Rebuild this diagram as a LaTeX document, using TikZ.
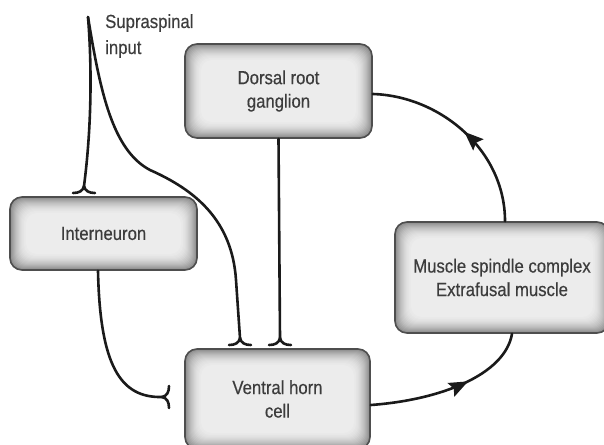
\documentclass[tikz,border=0pt]{standalone}
\usepackage{fontspec}
\setmainfont{Liberation Sans}[FakeStretch=0.88,FakeBold=0.4]
\usetikzlibrary{arrows.meta,decorations.markings}

\definecolor{ink}{HTML}{1A1A1A}
\definecolor{labelgray}{HTML}{3C3C3C}
\definecolor{boxedge}{HTML}{4E4E4E}

\tikzset{
  cellbox/.style={
    rectangle, rounded corners=12pt, draw=boxedge, line width=1.6pt,
    fill=gray!95, inner sep=0pt, align=center, text=labelgray,
    font=\fontsize{19}{23.5}\selectfont,
    path picture={
      \foreach \d in {0,...,18}{
        \pgfmathtruncatemacro\tone{15+78*(1-\d/18)^2}
        \fill[gray!\tone, rounded corners=11pt]
          ([xshift=\d pt,yshift=\d pt]path picture bounding box.south west)
          rectangle
          ([xshift=-\d pt,yshift=-\d pt]path picture bounding box.north east);
      }
    }},
  wire/.style={draw=ink, line width=2.6pt, line cap=round},
  flowarrow/.style={postaction={decorate}, decoration={markings,
      mark=at position #1 with {\arrow{Stealth[length=19pt,width=15pt,inset=3pt]}}}},
  flowarrow/.default=0.5,
  caption/.style={text=labelgray, font=\fontsize{19}{23.5}\selectfont, inner sep=0pt, anchor=base west},
  synapse/.pic={
    \draw[wire] (0,0) .. controls (-1,5) and (-5,7) .. (-11,7);
    \draw[wire] (0,0) .. controls (1,5) and (5,7) .. (11,7);
  }
}

\begin{document}
\begin{tikzpicture}[x=1pt, y=-1pt]
  \useasboundingbox (0,0) rectangle (604,444);
  \clip (0,0) rectangle (604,444);

  % boxes
  \node[cellbox, minimum width=187pt, minimum height=94pt] (drg) at (278.5,91) {Dorsal root\\ganglion};
  \node[cellbox, minimum width=187pt, minimum height=73pt] (inter) at (103.5,233.5) {Interneuron};
  \node[cellbox, minimum width=185pt, minimum height=100pt] (vhc) at (277.5,399) {Ventral horn\\cell};
  \node[cellbox, minimum width=214pt, minimum height=111pt] (msc) at (502,277.5) {Muscle spindle complex\\Extrafusal muscle};

  % descending input label
  \node[caption] (supra) at (105,28) {Supraspinal};
  \node[caption] (inp) at (105,54) {input};

  % synaptic endings
  \coordinate (apex) at (88,17);
  \coordinate (synI) at (84,186);
  \coordinate (synA) at (240,338);
  \coordinate (synB) at (280,338);
  \coordinate (synC) at (162,397);

  % supraspinal fibres
  \draw[wire] (apex) .. controls (93,80) and (90,140) .. (synI);
  \draw[wire] (apex) .. controls (100,90) and (112,150) .. (150,170)
              .. controls (195,190) and (232,220) .. (236,280) -- (synA);

  % dorsal root to ventral horn
  \draw[wire] (drg.south) -- (synB);

  % interneuron to ventral horn
  \draw[wire] ([xshift=-5.5pt]inter.south) .. controls (100,365) and (120,398) .. (synC);

  % motor output and sensory return
  \draw[wire, flowarrow=0.6] ([yshift=-6pt]vhc.east) .. controls (440,400) and (505,375) .. ([xshift=10pt]msc.south);
  \draw[wire, flowarrow=0.5] ([xshift=3pt]msc.north) .. controls (505,150) and (440,96) .. ([yshift=-3pt]drg.east);

  \pic at (synI) {synapse};
  \pic at (synA) {synapse};
  \pic at (synB) {synapse};
  \pic[rotate=90] at (synC) {synapse};
\end{tikzpicture}
\end{document}
